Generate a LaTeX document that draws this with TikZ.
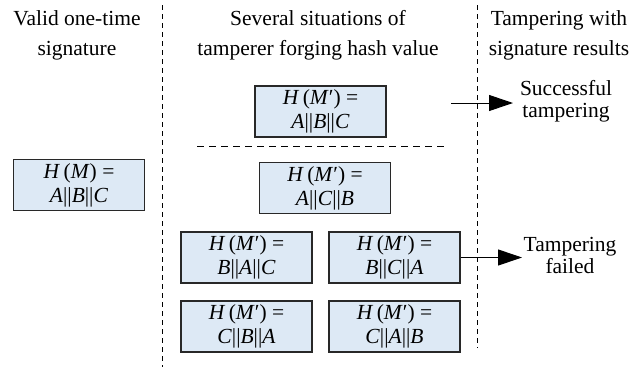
\documentclass[tikz,border=0pt]{standalone}
\usepackage{fontspec}
\setmainfont{Liberation Serif}
\usetikzlibrary{arrows.meta}
\definecolor{boxfill}{RGB}{221,233,245}
\definecolor{boxline}{RGB}{40,40,40}
\newcommand{\hm}[1]{\textit{H}\,(\textit{M}#1) =}
\newcommand{\cc}[3]{\textit{#1}||\textit{#2}||\textit{#3}}
\begin{document}
\begin{tikzpicture}[x=1pt,y=-1pt,
  hbox/.style={draw=boxline, line width=1.3pt, fill=boxfill, minimum width=131pt,
    minimum height=51pt, inner sep=0pt, align=center, font=\fontsize{21.5}{24}\selectfont},
  hdr/.style={align=center, inner sep=0pt, font=\fontsize{21.5}{30}\selectfont},
  res/.style={align=center, inner sep=0pt, font=\fontsize{21.5}{22}\selectfont},
  sep/.style={dashed, line width=0.9pt, dash pattern=on 5pt off 4pt},
  arr/.style={line width=1pt, -{Triangle[length=24pt,width=16pt]}}]
\useasboundingbox (0,0) rectangle (644,370);
% headers
\node[hdr] (h1) at (77,35) {Valid one-time\\signature};
\node[hdr] (h2) at (318,35) {Several situations of\\tamperer forging hash value};
\node[hdr] (h3) at (559,35) {Tampering with\\signature results};
% separators
\coordinate (v1t) at (162,5); \coordinate (v1b) at (162,367);
\coordinate (v2t) at (477,5); \coordinate (v2b) at (477,348);
\draw[sep] (v1t) -- (v1b);
\draw[sep] (v2t) -- (v2b);
\coordinate (hl) at (197,146); \coordinate (hr) at (444,146);
\draw[sep, dash pattern=on 7pt off 5pt] (hl) -- (hr);
% boxes
\node[hbox] (valid) at (79,185) {\hm{}\\\cc ABC};
\node[hbox] (abc) at (320.5,111.5) {\hm{′}\\\cc ABC};
\node[hbox] (acb) at (325,188) {\hm{′}\\\cc ACB};
\node[hbox] (bac) at (246.5,257.5) {\hm{′}\\\cc BAC};
\node[hbox] (cba) at (246.5,326.5) {\hm{′}\\\cc CBA};
\node[hbox] (bca) at (394.5,257.5) {\hm{′}\\\cc BCA};
\node[hbox] (cab) at (394.5,326.5) {\hm{′}\\\cc CAB};
% results
\node[res] (succ) at (566,101) {Successful\\tampering};
\node[res] (fail) at (570,255) {Tampering\\failed};
% arrows
\coordinate (a1s) at (451,103);
\draw[arr] (a1s) -- (a1s -| 513,0);
\draw[arr] (bca.east) -- (bca.east -| 522,0);
\end{tikzpicture}
\end{document}
